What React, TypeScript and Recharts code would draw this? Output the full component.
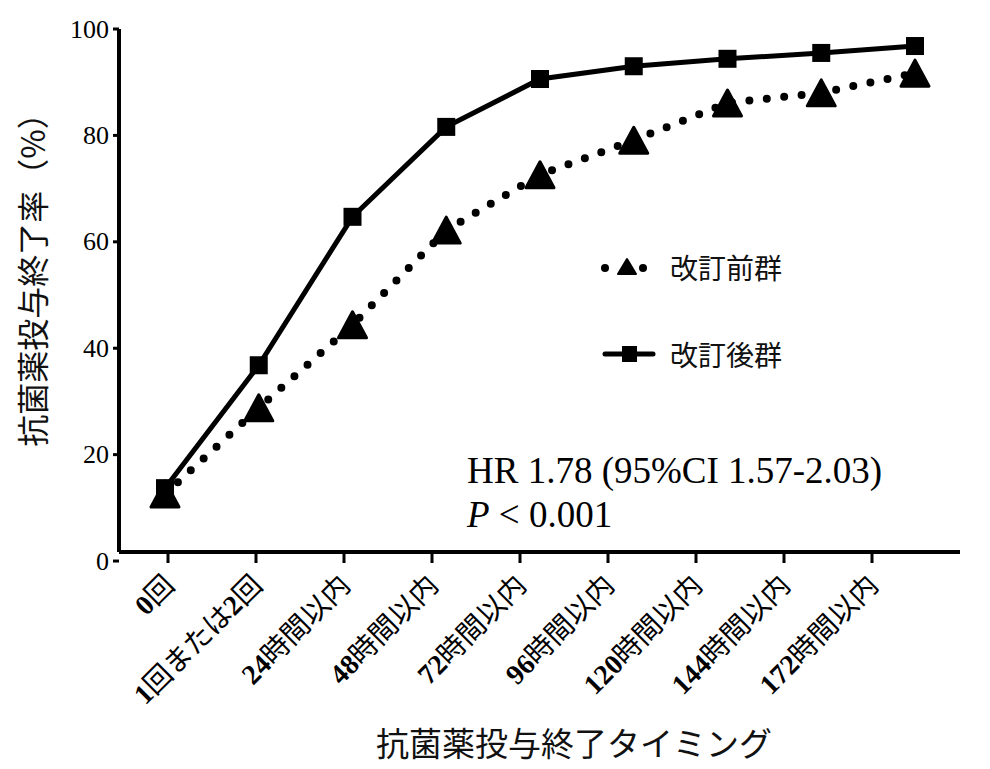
import React from 'react';
import { LineChart, Line, XAxis, YAxis, Legend, Customized } from 'recharts';

// 抗菌薬投与終了率 — 改訂前群 vs 改訂後群
const categories = [
  '0回',
  '1回または2回',
  '24時間以内',
  '48時間以内',
  '72時間以内',
  '96時間以内',
  '120時間以内',
  '144時間以内',
  '172時間以内',
];
const beforeRevision = [12.6, 28.8, 44.4, 62.2, 72.6, 79.1, 86.1, 88.0, 91.7];
const afterRevision = [13.7, 36.8, 64.7, 81.6, 90.6, 93.0, 94.4, 95.5, 96.8];
const yTicks = [0, 20, 40, 60, 80, 100];
const categoryTicks = categories.map((_, i) => i);

const SERIF = '"Liberation Serif", "Noto Sans CJK JP", serif';
const CJK = '"Noto Sans CJK JP", sans-serif';

const data = categories.map((label, i) => ({
  i,
  label,
  before: beforeRevision[i],
  after: afterRevision[i],
}));

const CategoryTick = (props: any) => {
  const { x, y, payload } = props;
  const label = categories[payload.value] ?? '';
  const parts = label.split(/(\d+)/).filter(Boolean);
  return (
    <g transform={`translate(${x + 8},${y + 22}) rotate(-45)`}>
      <text textAnchor="end" fontSize={28} fill="#000">
        {parts.map((p, k) => {
          const isNum = /^\d+$/.test(p);
          return (
            <tspan
              key={k}
              fontFamily={isNum ? 'Liberation Serif' : CJK}
              fontWeight={isNum ? 700 : 400}
            >
              {p}
            </tspan>
          );
        })}
      </text>
    </g>
  );
};

const ValueTick = (props: any) => {
  const { x, y, payload } = props;
  return (
    <text
      x={x}
      y={y}
      textAnchor="end"
      dominantBaseline="central"
      fontFamily="Liberation Serif"
      fontSize={26}
      fill="#000"
    >
      {payload.value}
    </text>
  );
};

const TriangleDot = (props: any) => {
  const { cx, cy } = props;
  if (cx == null || cy == null) return null;
  return (
    <path
      d={`M${cx},${cy - 13} L${cx + 14},${cy + 13} L${cx - 14},${cy + 13} Z`}
      fill="#000"
      stroke="#000"
      strokeWidth={3}
      strokeLinejoin="round"
    />
  );
};

const SquareDot = (props: any) => {
  const { cx, cy } = props;
  if (cx == null || cy == null) return null;
  return <rect x={cx - 9} y={cy - 9} width={18} height={18} fill="#000" />;
};

const renderLegend = () => {
  const rows = [
    {
      name: '改訂前群',
      icon: (
        <svg width={56} height={40}>
          <circle cx={5} cy={21} r={4} fill="#000" />
          <path d="M27,12 L36,27 L18,27 Z" fill="#000" stroke="#000" strokeWidth={2} strokeLinejoin="round" />
          <circle cx={43} cy={21} r={4} fill="#000" />
        </svg>
      ),
    },
    {
      name: '改訂後群',
      icon: (
        <svg width={56} height={40}>
          <line x1={5} y1={20} x2={53} y2={20} stroke="#000" strokeWidth={5} strokeLinecap="round" />
          <rect x={22} y={12} width={15} height={16} fill="#000" />
        </svg>
      ),
    },
  ];
  return (
    <div>
      {rows.map((r, k) => (
        <div
          key={r.name}
          style={{ display: 'flex', alignItems: 'center', height: 40, marginBottom: k === 0 ? 47 : 0 }}
        >
          {r.icon}
          <span style={{ marginLeft: 14, fontFamily: CJK, fontSize: 28, lineHeight: '40px', color: '#111' }}>
            {r.name}
          </span>
        </div>
      ))}
    </div>
  );
};

const Annotation = () => (
  <g>
    <text x={467} y={483} fontFamily={SERIF} fontSize={37} fill="#000">
      HR 1.78 (95%CI 1.57-2.03)
    </text>
    <text x={467} y={527} fontFamily={SERIF} fontSize={37} fill="#000">
      <tspan fontStyle="italic">P</tspan>
      <tspan> &lt; 0.001</tspan>
    </text>
  </g>
);

export default function App() {
  return (
    <div style={{ position: 'absolute', left: 0, top: 0, background: '#fff' }}>
      <LineChart width={990} height={769} data={data} margin={{ top: 29, right: 30, bottom: 0, left: 0 }}>
        <XAxis
          xAxisId="cat"
          dataKey="i"
          type="number"
          domain={[-0.5568, 9]}
          ticks={categoryTicks}
          interval={0}
          allowDataOverflow
          height={217}
          tickSize={11}
          tick={<CategoryTick />}
          axisLine={{ stroke: '#000', strokeWidth: 4 }}
          tickLine={{ stroke: '#000', strokeWidth: 3 }}
          label={{
            content: () => (
              <text x={574} y={756} textAnchor="middle" fontFamily={CJK} fontSize={33} fill="#111">
                抗菌薬投与終了タイミング
              </text>
            ),
          }}
        />
        <XAxis xAxisId="pos" dataKey="i" type="number" domain={[-0.4907, 8.48]} allowDataOverflow hide />
        <YAxis
          type="number"
          domain={[1.7, 100]}
          ticks={yTicks}
          interval={0}
          allowDataOverflow
          width={119}
          tickSize={6}
          tickMargin={4}
          tick={<ValueTick />}
          axisLine={{ stroke: '#000', strokeWidth: 4 }}
          tickLine={{ stroke: '#000', strokeWidth: 3 }}
          label={{
            content: () => (
              <text
                transform="translate(31,272) rotate(-90)"
                textAnchor="middle"
                dominantBaseline="central"
                fontFamily={CJK}
                fontSize={32}
                fill="#111"
              >
                抗菌薬投与終了率（%）
              </text>
            ),
          }}
        />
        <Legend
          layout="vertical"
          align="center"
          verticalAlign="middle"
          wrapperStyle={{ left: 600, top: 247, width: 260 }}
          content={renderLegend}
        />
        <Line
          xAxisId="pos"
          dataKey="after"
          name="改訂後群"
          stroke="#000"
          strokeWidth={5}
          dot={(p: any) => <SquareDot key={`sq-${p.index}`} {...p} />}
          activeDot={false}
          isAnimationActive={false}
        />
        <Line
          xAxisId="pos"
          dataKey="before"
          name="改訂前群"
          stroke="#000"
          strokeWidth={8}
          strokeDasharray="0 17.5"
          strokeLinecap="round"
          dot={(p: any) => <TriangleDot key={`tr-${p.index}`} {...p} />}
          activeDot={false}
          isAnimationActive={false}
        />
        <Customized component={Annotation} />
      </LineChart>
    </div>
  );
}
